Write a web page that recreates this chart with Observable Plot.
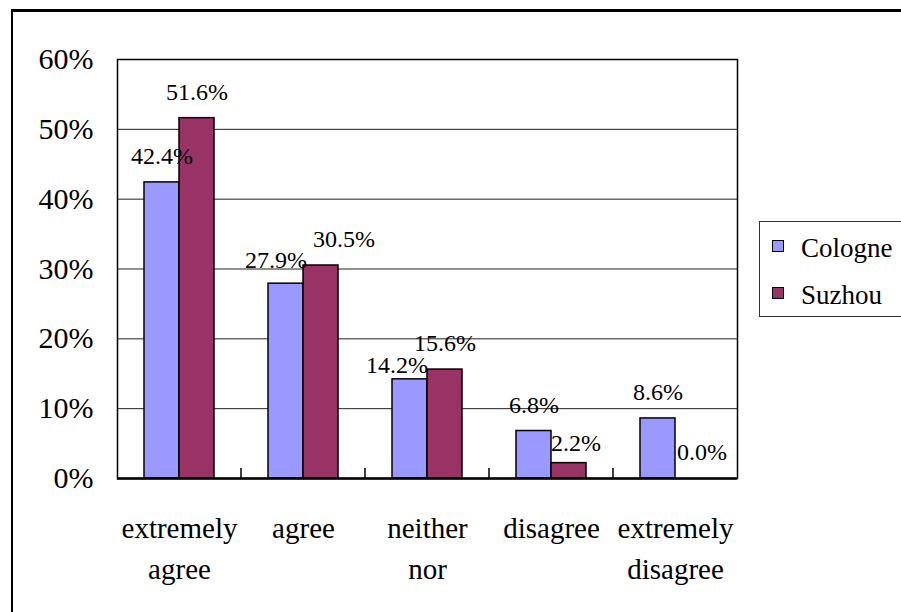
<!DOCTYPE html>
<html>
<head>
<meta charset="utf-8">
<script src="https://cdn.jsdelivr.net/npm/d3@7"></script>
<script src="https://cdn.jsdelivr.net/npm/@observablehq/plot@0.6"></script>
<style>
  html, body { margin: 0; padding: 0; background: #fff; }
  #wrap { position: relative; width: 901px; height: 612px; overflow: hidden; font-family: 'Liberation Serif', 'Times New Roman', 'DejaVu Serif', serif; }
  #border { position: absolute; left: 11px; top: 9px; width: 910px; height: 620px; border-left: 2.5px solid #000; border-top: 3px solid #000; pointer-events: none; }
  #chart { position: absolute; left: 0; top: 0; }
  #legend { position: absolute; left: 759px; top: 221px; width: 160px; height: 94px; border: 1px solid #333; background: #fff; }
  .sw { position: absolute; left: 12px; width: 10px; height: 10px; border: 1.5px solid #000; }
  .lt { position: absolute; left: 41px; font-size: 27px; line-height: 27px; color: #000; white-space: nowrap; }
</style>
</head>
<body>
<div id="wrap">
  <div id="chart"></div>
  <div id="border"></div>
  <div id="legend"></div>
</div>
<script>
// ---- data ----
const categories = ["extremely agree", "agree", "neither nor", "disagree", "extremely disagree"];
const categoryLabels = ["extremely\nagree", "agree", "neither\nnor", "disagree", "extremely\ndisagree"];
const series = ["Cologne", "Suzhou"];
const cologne = [42.4, 27.9, 14.2, 6.8, 8.6];
const suzhou = [51.6, 30.5, 15.6, 2.2, 0.0];
const yTicks = [0, 10, 20, 30, 40, 50, 60];
const colors = ["#9999FF", "#993366"];
// label nudges (pixels) to mimic the original's label placement
const cologneLabelDx = [0, -10, -13, 0, 0];
const suzhouLabelDx = [0, 23, 0, 7, 9];
const cologneLabelDy = [0, 3, 12, 0, 0];
const suzhouLabelDy = [0, 0, 0, 6, 0];

const FONT = "'Liberation Serif', 'Times New Roman', 'DejaVu Serif', serif";

const data = [];
categories.forEach((c, i) => {
  data.push({category: c, series: "Cologne", value: cologne[i], dx: cologneLabelDx[i], dy: cologneLabelDy[i]});
  data.push({category: c, series: "Suzhou", value: suzhou[i], dx: suzhouLabelDx[i], dy: suzhouLabelDy[i]});
});

const labelMarks = data.map(d => Plot.text([d], {
  fx: "category", x: "series", y: "value",
  text: v => v.value.toFixed(1) + "%",
  fontSize: 24, fill: "#000", fontFamily: FONT,
  dx: d.dx, dy: -26 + d.dy
}));

const chart = Plot.plot({
  width: 901, height: 612,
  marginLeft: 117, marginRight: 164, marginTop: 59, marginBottom: 134,
  style: {fontFamily: FONT, background: "transparent", color: "#000", overflow: "visible"},
  fx: {domain: categories, padding: 0, label: null},
  x: {domain: series, paddingInner: 0, paddingOuter: 0.75, axis: null},
  y: {domain: [0, 60], label: null},
  color: {domain: series, range: colors},
  marks: [
    Plot.gridY(yTicks, {stroke: "#222", strokeOpacity: 1, strokeWidth: 1}),
    Plot.barY(data, {fx: "category", x: "series", y: "value", fill: "series", stroke: "#000", strokeWidth: 1.5}),
    ...labelMarks,
    Plot.frame({stroke: "#000", strokeWidth: 1.5, facet: "super"}),
    Plot.ruleY([0], {stroke: "#000", strokeWidth: 2.5}),
    Plot.axisY(yTicks, {tickSize: 0, tickPadding: 24, fontSize: 30, fontFamily: FONT, tickFormat: d => d + "%", label: null}),
    Plot.axisFx({anchor: "bottom", tickSize: 0, tickPadding: 31, fontSize: 29, fontFamily: FONT, lineHeight: 1.4,
      tickFormat: c => categoryLabels[categories.indexOf(c)], label: null})
  ]
});
document.getElementById("chart").appendChild(chart);

// inward category-boundary tick marks, placed from the library's scales
const fxs = chart.scale("fx");
const ys = chart.scale("y");
const svg = d3.select(chart.tagName.toLowerCase() === "svg" ? chart : chart.querySelector("svg"));
const y0 = ys.apply(0);
for (let i = 0; i < categories.length - 1; i++) {
  const xb = fxs.apply(categories[i]) + fxs.bandwidth;
  svg.append("line").attr("x1", xb).attr("x2", xb).attr("y1", y0).attr("y2", y0 - 10)
    .attr("stroke", "#000").attr("stroke-width", 1.5);
}

// legend
const legend = document.getElementById("legend");
const swTops = [18, 65];
const txtTops = [13, 60];
series.forEach((s, i) => {
  const sw = document.createElement("div");
  sw.className = "sw"; sw.style.top = swTops[i] + "px"; sw.style.background = colors[i];
  legend.appendChild(sw);
  const t = document.createElement("div");
  t.className = "lt"; t.style.top = txtTops[i] + "px"; t.textContent = s;
  legend.appendChild(t);
});
</script>
</body>
</html>
